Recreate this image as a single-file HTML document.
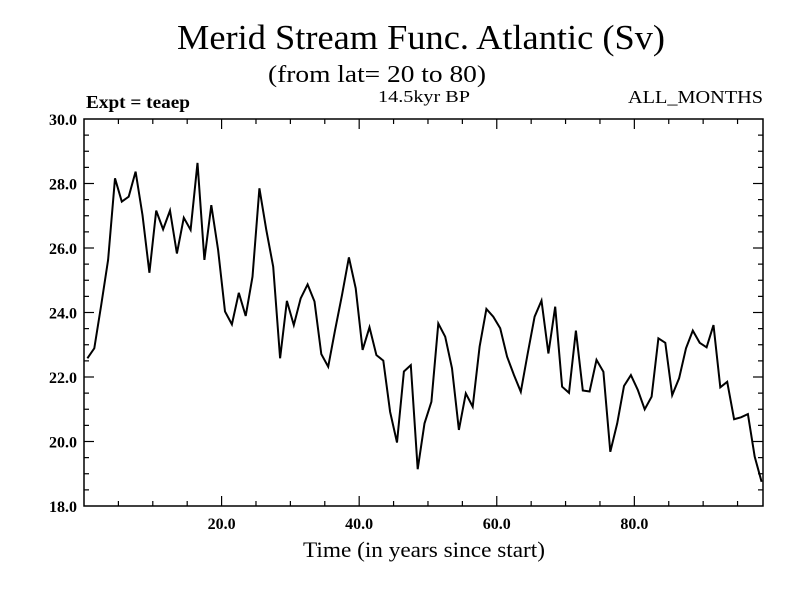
<!DOCTYPE html>
<html><head><meta charset="utf-8"><style>
body{margin:0;background:#fff}
svg{display:block}
text{font-family:"Liberation Serif",serif;fill:#000}
</style></head><body>
<svg id="c" width="800" height="600">
<text x="177" y="49" font-size="35" textLength="488" lengthAdjust="spacingAndGlyphs">Merid Stream Func. Atlantic (Sv)</text>
<text x="268" y="82" font-size="24" textLength="218" lengthAdjust="spacingAndGlyphs">(from lat= 20 to 80)</text>
<text x="86" y="108" font-size="18" font-weight="bold" textLength="104" lengthAdjust="spacingAndGlyphs">Expt = teaep</text>
<text x="378" y="102" font-size="17" textLength="92" lengthAdjust="spacingAndGlyphs">14.5kyr BP</text>
<text x="628" y="103" font-size="18" textLength="135" lengthAdjust="spacingAndGlyphs">ALL_MONTHS</text>
<text x="303" y="557" font-size="22" textLength="242" lengthAdjust="spacingAndGlyphs">Time (in years since start)</text>
<g id="ax"></g>
</svg>
<script>
const values=[22.58,22.89,24.23,25.63,28.16,27.44,27.59,28.37,27.02,25.23,27.16,26.58,27.16,25.83,26.94,26.56,28.64,25.63,27.33,25.94,24.03,23.63,24.61,23.89,25.11,27.85,26.56,25.42,22.58,24.36,23.61,24.44,24.87,24.34,22.71,22.32,23.46,24.54,25.71,24.75,22.84,23.54,22.68,22.51,20.92,19.97,22.17,22.37,19.14,20.56,21.23,23.66,23.25,22.27,20.36,21.49,21.08,22.94,24.11,23.87,23.51,22.63,22.06,21.54,22.73,23.87,24.37,22.73,24.18,21.70,21.51,23.44,21.58,21.55,22.53,22.16,19.68,20.56,21.72,22.06,21.60,21.00,21.39,23.20,23.06,21.44,21.96,22.89,23.44,23.06,22.92,23.61,21.68,21.85,20.69,20.75,20.85,19.53,18.75];
const xTicks=[20,40,60,80];
const yTicks=[18,20,22,24,26,28,30];
const L=84,R=763,T=119,B=506,X0=0,X1=98.7,Y0=18,Y1=30;
const sx=v=>L+(v-X0)/(X1-X0)*(R-L);
const sy=v=>B-(v-Y0)/(Y1-Y0)*(B-T);
const NS='http://www.w3.org/2000/svg';
const g=document.getElementById('ax');
function mk(t,a){const e=document.createElementNS(NS,t);for(const k in a)e.setAttribute(k,a[k]);g.appendChild(e);return e;}
const frame=mk('rect',{x:L,y:T,width:R-L,height:B-T,fill:'none',stroke:'#000','stroke-width':1.5});


for(let v=5;v<X1;v+=5){const maj=v%20===0,len=maj?10:5,x=sx(v);
 const t1=mk('line',{x1:x,x2:x,y1:B,y2:B-len,stroke:'#000','stroke-width':1.2});
 
 
 const t2=mk('line',{x1:x,x2:x,y1:T,y2:T+len,stroke:'#000','stroke-width':1.2});
 
 }
xTicks.forEach(v=>{const t=mk('text',{x:sx(v),y:529,'font-size':16,'font-weight':'bold','text-anchor':'middle'});t.textContent=v.toFixed(1);
 
 });
for(let v=18.5;v<30;v+=0.5){const maj=Math.abs(v%2)<1e-6,len=maj?10:5,y=sy(v);
 const t1=mk('line',{x1:L,x2:L+len,y1:y,y2:y,stroke:'#000','stroke-width':1.2});
 
 
 const t2=mk('line',{x1:R,x2:R-len,y1:y,y2:y,stroke:'#000','stroke-width':1.2});
 
 }
yTicks.forEach(v=>{const t=mk('text',{x:77,y:sy(v)+6,'font-size':16,'font-weight':'bold','text-anchor':'end'});t.textContent=v.toFixed(1);
 
 });
const d=values.map((v,i)=>(i?'L':'M')+sx(i+0.5).toFixed(1)+','+sy(v).toFixed(1)).join('');
const line=mk('path',{d:d,fill:'none',stroke:'#000','stroke-width':2});


</script>
</body></html>
